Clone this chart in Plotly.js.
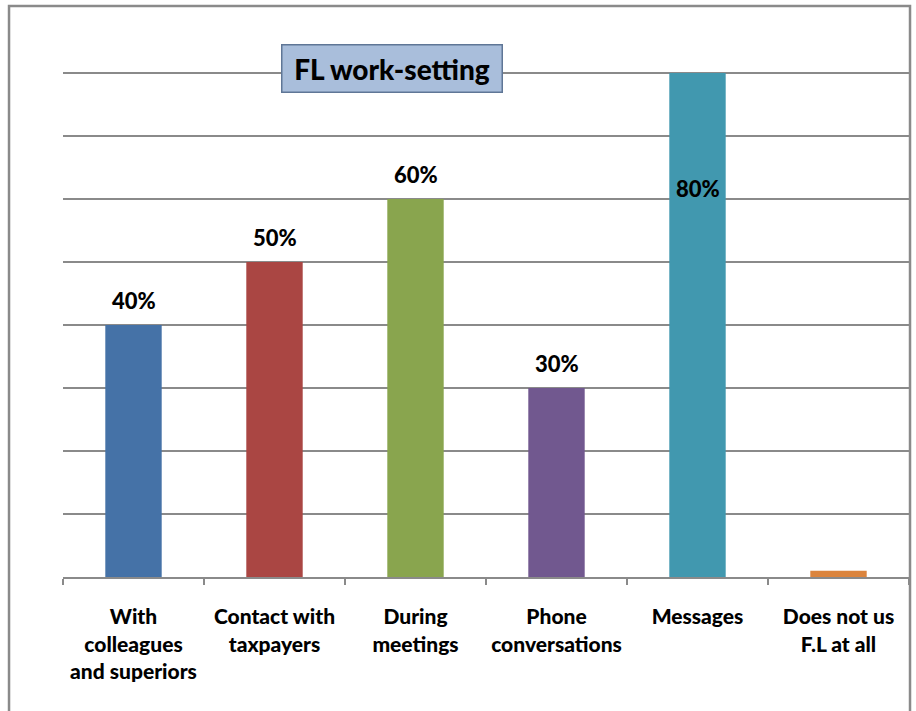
<!DOCTYPE html>
<html><head><meta charset="utf-8">
<script src="https://cdn.plot.ly/plotly-3.0.1.min.js"></script>
<style>html,body{margin:0;padding:0;background:#fff}#chart{width:916px;height:711px}</style>
</head><body><div id="chart"></div>
<script>
const categories = ["With<br>colleagues<br>and superiors","Contact with<br>taxpayers","During<br>meetings","Phone<br>conversations","Messages","Does not us<br>F.L at all"];
const values = [40, 50, 60, 30, 80, 1];
const valueLabels = ["40%","50%","60%","30%","80%",""];
const barColors = ["#4572a7","#aa4643","#89a54e","#71588f","#4198af","#db843d"];
const chartTitle = "FL work-setting";

const FONT = "Lato, 'Open Sans', sans-serif";
const W = 900;

const annotations = [];
values.forEach((v, i) => {
  if (!valueLabels[i]) return;
  const inside = v >= 80;
  annotations.push({
    x: categories[i], y: v, xref: "x", yref: "y",
    text: valueLabels[i], showarrow: false,
    yanchor: inside ? "top" : "bottom",
    yshift: inside ? -100 : 9,
    font: {family: FONT, size: 22, color: "#000", weight: W}
  });
});
annotations.push({
  x: 0.389, y: 0.896, xref: "paper", yref: "paper",
  text: chartTitle, showarrow: false,
  xanchor: "center", yanchor: "middle",
  width: 215, height: 42, borderpad: 2,
  bgcolor: "#a9bedb", bordercolor: "#5f7696", borderwidth: 1.5,
  font: {family: FONT, size: 28, color: "#000", weight: W}
});

const data = [{
  type: "bar", x: categories, y: values,
  marker: {color: barColors, line: {width: 0}},
  hoverinfo: "none"
}];

const layout = {
  width: 916, height: 711,
  margin: {l: 63, r: 7, t: 10, b: 134},
  paper_bgcolor: "#fff", plot_bgcolor: "#fff",
  showlegend: false, bargap: 0.6,
  font: {family: FONT, color: "#000"},
  xaxis: {
    type: "category", tickson: "boundaries", ticks: "outside", ticklen: 6, tickwidth: 1.5,
    tickcolor: "#8a8a8a", showline: true, linecolor: "#8a8a8a", linewidth: 2,
    ticklabelstandoff: 20,
    showgrid: false, tickfont: {family: FONT, size: 21, color: "#000", weight: W}, fixedrange: true
  },
  yaxis: {
    range: [0, 90], dtick: 10, showticklabels: false, showline: false, zeroline: false,
    showgrid: true, gridcolor: "#8a8a8a", gridwidth: 2, fixedrange: true
  },
  annotations: annotations,
  shapes: [{
    type: "rect", xref: "paper", yref: "paper",
    x0: -0.0638, x1: 1.0012, y0: -0.3, y1: 1.0071,
    line: {color: "#8a8a8a", width: 2.5}, layer: "below"
  }]
};

Plotly.newPlot("chart", data, layout, {displayModeBar: false, staticPlot: true});
</script></body></html>
